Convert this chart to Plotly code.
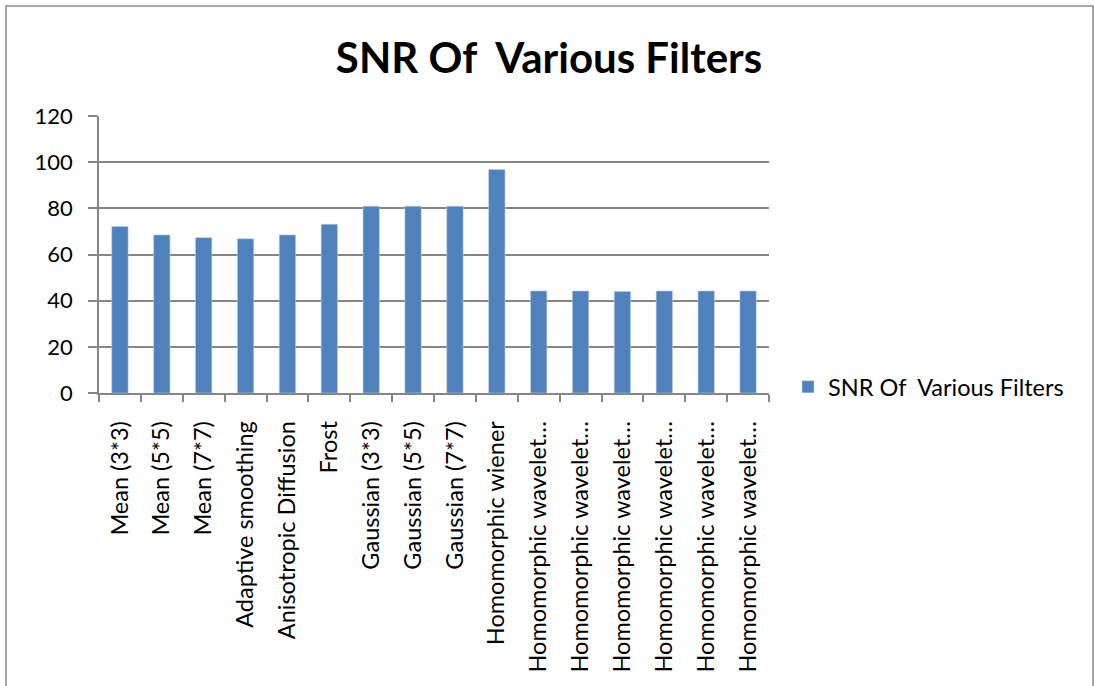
import plotly.graph_objects as go

categories = [
    "Mean (3*3)", "Mean (5*5)", "Mean (7*7)", "Adaptive smoothing",
    "Anisotropic Diffusion", "Frost", "Gaussian (3*3)", "Gaussian (5*5)",
    "Gaussian (7*7)", "Homomorphic wiener",
    "Homomorphic wavelet…", "Homomorphic wavelet…", "Homomorphic wavelet…",
    "Homomorphic wavelet…", "Homomorphic wavelet…", "Homomorphic wavelet…",
]
snr_values = [72.1, 68.5, 67.3, 66.8, 68.5, 73.1, 80.9, 80.9, 80.9, 96.8,
              44.2, 44.2, 44.0, 44.2, 44.2, 44.2]
y_ticks = [0, 20, 40, 60, 80, 100, 120]
series_name = "SNR Of  Various Filters"

FONT = "Lato"
positions = list(range(len(categories)))

fig = go.Figure()
fig.add_trace(go.Bar(
    x=positions, y=snr_values, name=series_name,
    marker=dict(color="#4F81BD", line=dict(color="#B9CDE5", width=0.6)),
    width=0.39, showlegend=True,
))

L, R, T, B = 99, 326, 116, 293
W, H = 1095, 686
pw, ph = W - L - R, H - T - B

fig.update_layout(
    width=W, height=H,
    margin=dict(l=L, r=R, t=T, b=B),
    paper_bgcolor="white", plot_bgcolor="white",
    font=dict(family=FONT, color="black"),
    title=dict(text="<b>SNR Of  Various Filters</b>", x=549 / W, xanchor="center",
               y=1 - 58 / H, yanchor="middle", yref="container",
               font=dict(size=42, family=FONT, color="black")),
    showlegend=True,
    legend=dict(x=(788 - L) / pw, xanchor="left", y=(393 - 387) / ph, yanchor="middle",
                font=dict(size=23.5, family=FONT), bgcolor="rgba(0,0,0,0)"),
)
fig.update_xaxes(
    range=[-0.5, len(categories) - 0.5],
    tickmode="array", tickvals=positions, ticktext=categories,
    tickangle=-90, ticks="", ticklabelstandoff=17,
    tickfont=dict(size=23.5, family=FONT, color="black"),
    showline=True, linecolor="#868686", linewidth=1.5,
    showgrid=False, zeroline=False,
    minor=dict(ticks="outside", tick0=-0.5, dtick=1, ticklen=7,
               tickcolor="#868686", tickwidth=1.5, showgrid=False),
)
fig.update_yaxes(
    range=[0, 120], tickmode="array", tickvals=y_ticks,
    ticks="outside", ticklen=9, tickcolor="#868686", tickwidth=1.5,
    tickfont=dict(size=22, family=FONT, color="black"),
    showline=True, linecolor="#868686", linewidth=1.5,
    showgrid=True, gridcolor="#868686", gridwidth=1.5,
    zeroline=False, ticklabelstandoff=11,
)
fig.add_shape(type="rect", xref="paper", yref="paper",
              x0=(6 - L) / pw, x1=(1093 - L) / pw,
              y0=(H - B - 692) / ph, y1=(H - B - 6) / ph,
              line=dict(color="#8C8C8C", width=1.5), fillcolor="rgba(0,0,0,0)", layer="below")

fig.write_html("out.html", config={"displayModeBar": False},
               post_script="document.body.style.margin='0';document.body.style.overflow='hidden';")
